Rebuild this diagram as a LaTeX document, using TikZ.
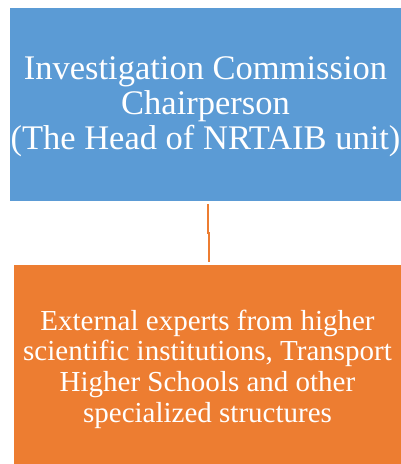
\documentclass[tikz,border=0pt]{standalone}
\usepackage{fontspec}
\setmainfont{Liberation Serif}

\definecolor{ChairBlue}{HTML}{5b9bd5}
\definecolor{ExpertOrange}{HTML}{ed7d31}

\tikzstyle{chair-box}=[fill={ChairBlue}, inner sep=0pt, minimum width=391pt, minimum height=193pt]
\tikzstyle{expert-box}=[fill={ExpertOrange}, inner sep=0pt, minimum width=387pt, minimum height=199pt]
\tikzstyle{box-text}=[text=white, inner sep=0pt, align=center]
\tikzstyle{link}=[draw={ExpertOrange}, line width=2pt]

\begin{document}
\begin{tikzpicture}[x=1pt, y=1pt]
      \useasboundingbox[fill=white] (0,0) rectangle (401,464);

      \node (chair) at (205.5, 359.5) [chair-box] {};
      \node (chair-text) at ([yshift=-2.5pt]chair.center)
            [box-text, font=\fontsize{34.5}{35}\selectfont]
            {Investigation Commission\\Chairperson\\(The Head of NRTAIB unit)};

      \node (experts) at (207.5, 99.5) [expert-box] {};
      \node (experts-text) at ([yshift=-4.5pt]experts.center)
            [box-text, font=\fontsize{29}{30.7}\selectfont]
            {External experts from higher\\scientific institutions, Transport\\Higher Schools and other\\specialized structures};

      \draw[link] ([xshift=2pt, yshift=-3pt]chair.south) -- ++(0,-29)
            -| ([xshift=1.5pt, yshift=3pt]experts.north);
    \end{tikzpicture}
\end{document}
